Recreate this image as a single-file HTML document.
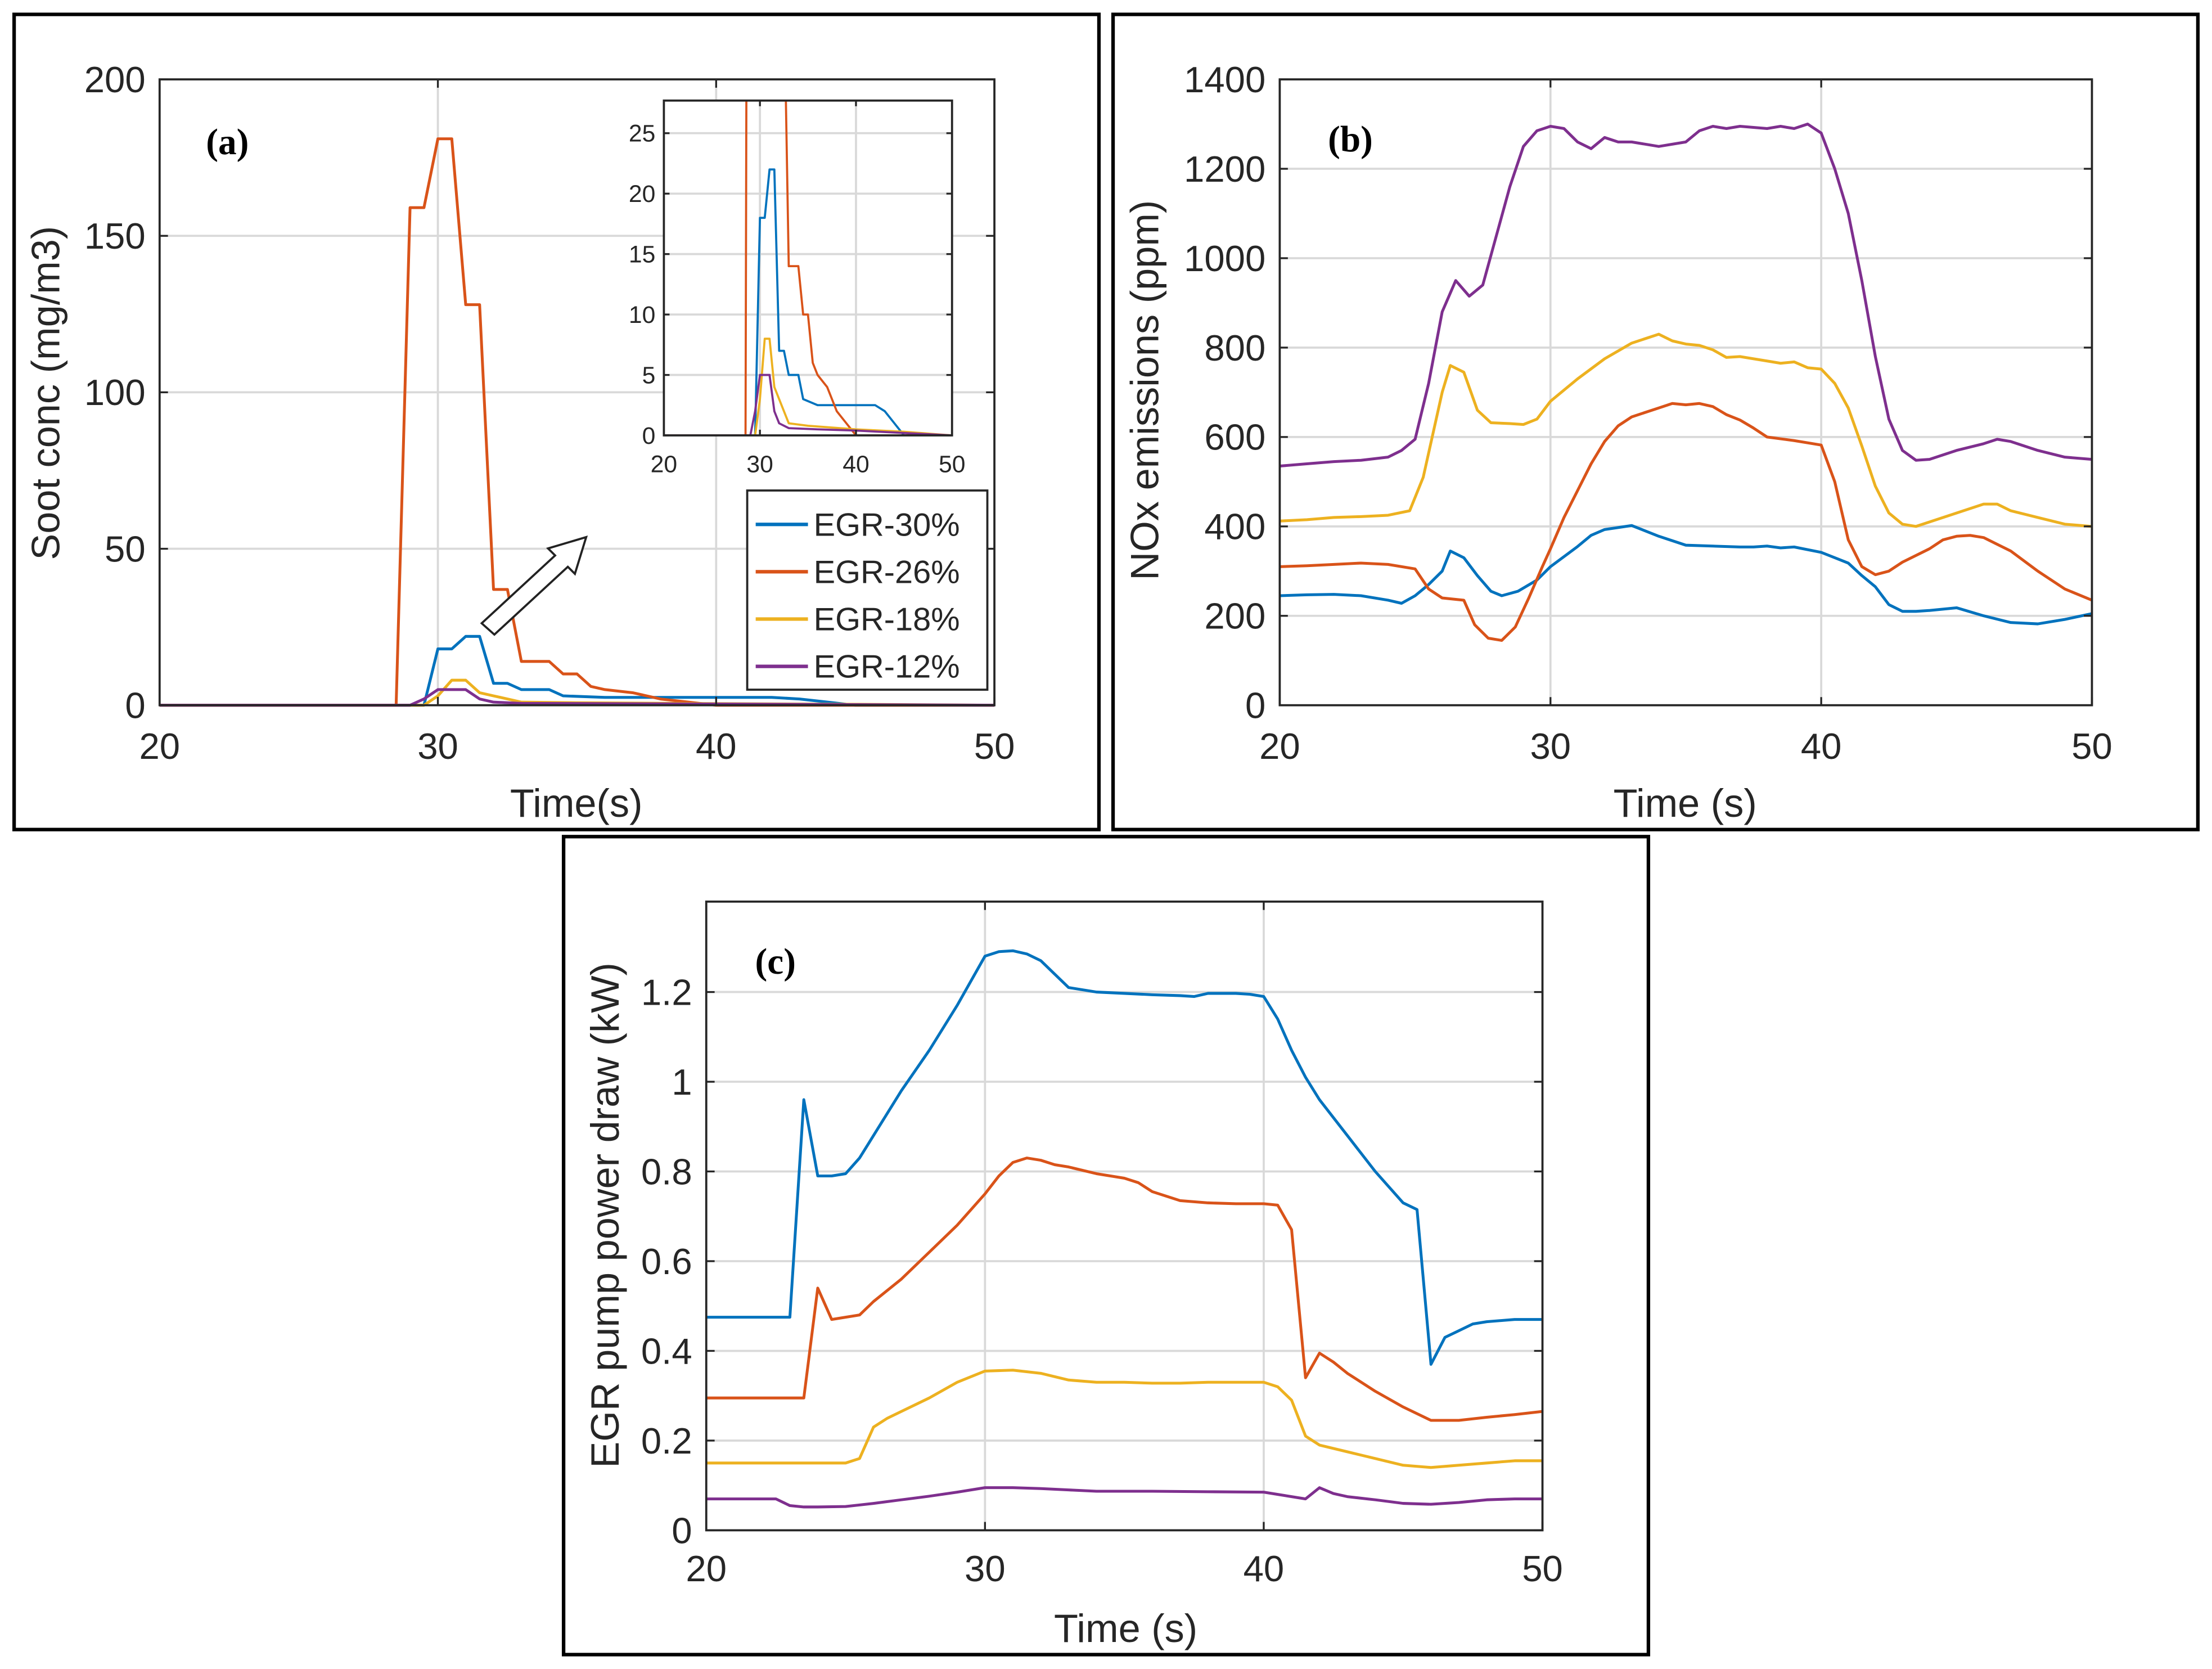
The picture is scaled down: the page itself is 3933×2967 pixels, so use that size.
<!DOCTYPE html>
<html><head><meta charset="utf-8">
<style>
html,body{margin:0;padding:0;background:#fff;}
svg{display:block;}
text{font-family:"Liberation Sans",Arial,sans-serif;fill:#262626;}
.lbl{font-family:"Liberation Serif",serif;font-weight:bold;fill:#000;}
</style></head>
<body>
<svg id="fig" width="3933" height="2967" viewBox="0 0 1566 1181" xmlns="http://www.w3.org/2000/svg">
<rect x="0" y="0" width="1566" height="1181" fill="#fff"/>
</svg>
<script>
// ---------- Panel (a): soot concentration ----------
const aT30=[20,29.5,30,30.5,31,31.5,32,32.5,33,34,34.5,36,38,40,42,43,44,45,50];
const aV30=[0,0,18,18,22,22,7,7,5,5,3,2.5,2.5,2.5,2.5,2,1,0,0];
const aT26=[20,28.5,29,29.5,30,30.5,31,31.5,32,32.5,33,34,34.5,35,35.5,36,37,38,39,40,50];
const aV26=[0,0,159,159,181,181,128,128,37,37,14,14,10,10,6,5,4,2,1,0,0];
const aT18=[20,29.5,30,30.5,31,31.5,32,33,35,40,45,50];
const aV18=[0,0,3,8,8,4,3,1,0.8,0.5,0.3,0];
const aT12=[20,29,29.5,30,31,31.5,32,33,36,40,45,50];
const aV12=[0,0,2,5,5,2,1,0.6,0.5,0.4,0.2,0];
const aYTicks=[0,50,100,150,200];
const aInsetYTicks=[0,5,10,15,20,25];
const xTicks=[20,30,40,50];
// ---------- Panel (b): NOx ----------
const bT12=[20,21,22,23,24,24.5,25,25.5,26,26.5,27,27.5,28,28.5,29,29.5,30,30.5,31,31.5,32,32.5,33,34,35,35.5,36,36.5,37,38,38.5,39,39.5,40,40.5,41,41.5,42,42.5,43,43.5,44,45,46,46.5,47,48,49,50];
const bV12=[535,540,545,548,555,570,595,720,880,950,915,940,1050,1160,1250,1285,1295,1290,1260,1245,1270,1260,1260,1250,1260,1285,1295,1290,1295,1290,1295,1290,1300,1280,1200,1100,950,780,640,570,548,550,570,585,595,590,570,555,550];
const bT18=[20,21,22,23,24,24.8,25.3,26,26.3,26.8,27.3,27.8,28.5,29,29.5,30,31,32,33,34,34.5,35,35.5,36,36.5,37,38,38.5,39,39.5,40,40.5,41,41.5,42,42.5,43,43.5,44,45,46,46.5,47,48,49,50];
const bV18=[412,415,420,422,425,435,510,700,760,745,660,632,630,628,640,680,730,775,810,830,815,808,805,795,778,780,770,765,768,755,752,720,665,580,490,430,405,400,410,430,450,450,435,420,405,400];
const bT26=[20,21,22,23,24,25,25.5,26,26.8,27.2,27.7,28.2,28.7,29.2,29.7,30,30.5,31,31.5,32,32.5,33,34,34.5,35,35.5,36,36.5,37,37.5,38,39,40,40.5,41,41.5,42,42.5,43,44,44.5,45,45.5,46,47,48,49,50];
const bV26=[310,312,315,318,315,305,260,240,235,180,150,145,175,240,310,350,420,480,540,590,625,645,665,675,672,675,668,650,638,620,600,592,582,500,370,310,292,300,320,350,370,378,380,375,345,300,260,235];
const bT30=[20,21,22,23,24,24.5,25,25.5,26,26.3,26.8,27.3,27.8,28.2,28.8,29.5,30,31,31.5,32,33,34,35,36,37,37.5,38,38.5,39,40,40.5,41,41.5,42,42.5,43,43.5,44,45,46,47,48,49,50];
const bV30=[245,247,248,245,235,228,245,270,300,345,330,290,255,245,255,280,310,355,380,393,402,378,358,356,354,354,356,352,354,342,330,318,290,265,225,210,210,212,218,200,185,182,192,205];
const bYTicks=[0,200,400,600,800,1000,1200,1400];
// ---------- Panel (c): pump power ----------
const cT30=[20,22,23,23.5,24,24.5,25,25.5,26,27,28,29,30,30.5,31,31.5,32,32.5,33,34,35,36,37,37.5,38,39,39.5,40,40.5,41,41.5,42,43,44,45,45.5,46,46.5,47,47.5,48,49,50];
const cV30=[0.475,0.475,0.475,0.96,0.79,0.79,0.795,0.83,0.88,0.98,1.07,1.17,1.28,1.29,1.292,1.285,1.27,1.24,1.21,1.2,1.197,1.194,1.192,1.19,1.197,1.197,1.195,1.19,1.14,1.07,1.01,0.96,0.88,0.8,0.73,0.715,0.37,0.43,0.445,0.46,0.465,0.47,0.47];
const cT26=[20,23.5,24,24.5,25,25.5,26,27,28,29,30,30.5,31,31.5,32,32.5,33,34,35,35.5,36,37,38,39,40,40.5,41,41.5,42,42.5,43,44,45,46,47,48,49,50];
const cV26=[0.295,0.295,0.54,0.47,0.475,0.48,0.51,0.56,0.62,0.68,0.75,0.79,0.82,0.83,0.825,0.815,0.81,0.795,0.785,0.775,0.755,0.735,0.73,0.728,0.728,0.725,0.67,0.34,0.395,0.375,0.35,0.31,0.275,0.245,0.245,0.252,0.258,0.265];
const cT18=[20,25,25.5,26,26.5,27,28,29,30,31,32,33,34,35,36,37,38,39,40,40.5,41,41.5,42,43,44,45,46,47,48,49,50];
const cV18=[0.15,0.15,0.16,0.23,0.25,0.265,0.295,0.33,0.355,0.357,0.35,0.335,0.33,0.33,0.328,0.328,0.33,0.33,0.33,0.32,0.29,0.21,0.19,0.175,0.16,0.145,0.14,0.145,0.15,0.155,0.155];
const cT12=[20,22.5,23,23.5,24,25,26,27,28,29,30,31,32,33,34,36,38,40,41,41.5,42,42.5,43,44,45,46,47,48,49,50];
const cV12=[0.07,0.07,0.055,0.052,0.052,0.053,0.06,0.068,0.076,0.085,0.095,0.095,0.093,0.09,0.087,0.087,0.086,0.085,0.075,0.07,0.095,0.082,0.075,0.068,0.06,0.058,0.062,0.068,0.07,0.07];
const cYTicks=[0,0.2,0.4,0.6,0.8,1,1.2];
const cYLabels=["0","0.2","0.4","0.6","0.8","1","1.2"];

const COL={b:"#0072BD",o:"#D95319",y:"#EDB120",p:"#7E2F8E"};
const NS="http://www.w3.org/2000/svg";
const fig=document.getElementById('fig');
function mk(tag,attrs,parent){const e=document.createElementNS(NS,tag);for(const k in attrs)e.setAttribute(k,attrs[k]);(parent||fig).appendChild(e);return e;}
function txt(s,x,y,size,anchor,parent,extra){const t=mk('text',Object.assign({x:x,y:y,'font-size':size,'text-anchor':anchor||'middle'},extra||{}),parent);t.textContent=s;return t;}

function axes(g,x0,x1,y0,y1,xmin,xmax,ymin,ymax){
  return {sx:v=>x0+(v-xmin)/(xmax-xmin)*(x1-x0), sy:v=>y0-(v-ymin)/(ymax-ymin)*(y0-y1)};
}
function drawLine(g,T,V,ax,color,w,clip){
  let d='';for(let i=0;i<T.length;i++){d+=(i?'L':'M')+ax.sx(T[i]).toFixed(2)+','+ax.sy(V[i]).toFixed(2);}
  const p=mk('path',{d:d,fill:'none',stroke:color,'stroke-width':w,'stroke-linejoin':'round'},g);
  if(clip)p.setAttribute('clip-path','url(#'+clip+')');
  return p;
}
function frame(g,x0,x1,y0,y1,ax,xt,yt,yl,fs,gridX,gridY){
  gridX.forEach(v=>{const l=mk('line',{x1:ax.sx(v),x2:ax.sx(v),y1:y1,y2:y0,stroke:'#d9d9d9','stroke-width':1.5},g);});
  gridY.forEach(v=>{const l=mk('line',{x1:x0,x2:x1,y1:ax.sy(v),y2:ax.sy(v),stroke:'#d9d9d9','stroke-width':1.5},g);});
}
function box(g,x0,x1,y0,y1,ax,xt,yt,yl,fs,xOff,yOff){
  mk('rect',{x:x0,y:y1,width:x1-x0,height:y0-y1,fill:'none',stroke:'#262626','stroke-width':1.5},g);
  const tl=Math.max(4,(x1-x0)*0.01);
  xt.forEach(v=>{const x=ax.sx(v);mk('line',{x1:x,x2:x,y1:y0,y2:y0-tl,stroke:'#262626','stroke-width':1.3},g);mk('line',{x1:x,x2:x,y1:y1,y2:y1+tl,stroke:'#262626','stroke-width':1.3},g);
    const t=txt(String(v),x,y0+xOff,fs,'middle',g);});
  yt.forEach((v,i)=>{const y=ax.sy(v);mk('line',{x1:x0,x2:x0+tl,y1:y,y2:y,stroke:'#262626','stroke-width':1.3},g);mk('line',{x1:x1,x2:x1-tl,y1:y,y2:y,stroke:'#262626','stroke-width':1.3},g);
    const t=txt(yl?yl[i]:String(v),x0-yOff,y+fs*0.35,fs,'end',g);});
}

// ===== Panel A =====
(function(){
  const g=mk('g',{});
  
  
  mk('rect',{x:10,y:10,width:768,height:577,fill:'#fff',stroke:'#000','stroke-width':2.5},g);
  const x0=113,x1=704,y0=499,y1=56;
  const ax=axes(g,x0,x1,y0,y1,20,50,0,200);
  frame(g,x0,x1,y0,y1,ax,xTicks,aYTicks,null,24,[30,40],[50,100,150]);
  const ser=[[aT30,aV30,COL.b],[aT26,aV26,COL.o],[aT18,aV18,COL.y],[aT12,aV12,COL.p]];
  const names=['line-egr-30','line-egr-26','line-egr-18','line-egr-12'];
  ser.forEach((s,i)=>{const p=drawLine(g,s[0],s[1],ax,s[2],2);});
  box(g,x0,x1,y0,y1,ax,xTicks,aYTicks,null,26,38,10);
  const xt=txt('Time(s)',408,578,28,'middle',g);
  const yt=txt('Soot conc (mg/m3)',42,278,28,'middle',g,{transform:'rotate(-90 42 278)'});
  const lb=txt('(a)',161,109,26,'middle',g,{class:'lbl'});
  // arrow
  const ar=mk('path',{d:'M341,441 L393,393 L388,388 L415,380 L407,406 L402,401 L350,449 Z',fill:'#fff',stroke:'#222','stroke-width':1.5},g);
  
  // inset
  const ix0=470,ix1=674,iy0=308,iy1=71;
  const iax=axes(g,ix0,ix1,iy0,iy1,20,50,0,27.7);
  mk('rect',{x:ix0,y:iy1,width:ix1-ix0,height:iy0-iy1,fill:'#fff'},g);
  const defs=mk('defs',{},g);const cp=mk('clipPath',{id:'insetClip'},defs);mk('rect',{x:ix0,y:iy1,width:ix1-ix0,height:iy0-iy1},cp);
  frame(g,ix0,ix1,iy0,iy1,iax,xTicks,aInsetYTicks,null,16,[30,40],[5,10,15,20,25]);
  ser.forEach((s,i)=>{const p=drawLine(g,s[0],s[1],iax,s[2],1.5,'insetClip');});
  box(g,ix0,ix1,iy0,iy1,iax,xTicks,aInsetYTicks,null,17,26,6);
  // legend
  const lg=mk('g',{},g);
  mk('rect',{x:529,y:347,width:170,height:141,fill:'#fff',stroke:'#262626','stroke-width':1.5},lg);
  const ln=['EGR-30%','EGR-26%','EGR-18%','EGR-12%'];
  ser.forEach((s,i)=>{const y=371+i*33.5;mk('line',{x1:535,x2:572,y1:y,y2:y,stroke:s[2],'stroke-width':2.5},lg);
    const t=txt(ln[i],576,y+8,23,'start',lg);});
})();

// ===== Panel B =====
(function(){
  const g=mk('g',{});
  
  
  mk('rect',{x:788,y:10,width:768,height:577,fill:'#fff',stroke:'#000','stroke-width':2.5},g);
  const x0=906,x1=1481,y0=499,y1=56;
  const ax=axes(g,x0,x1,y0,y1,20,50,0,1400);
  frame(g,x0,x1,y0,y1,ax,xTicks,bYTicks,null,24,[30,40],[200,400,600,800,1000,1200]);
  const ser=[[bT30,bV30,COL.b,'line-egr-30'],[bT26,bV26,COL.o,'line-egr-26'],[bT18,bV18,COL.y,'line-egr-18'],[bT12,bV12,COL.p,'line-egr-12']];
  ser.forEach(s=>{const p=drawLine(g,s[0],s[1],ax,s[2],2);});
  box(g,x0,x1,y0,y1,ax,xTicks,bYTicks,null,26,38,10);
  const xt=txt('Time (s)',1193,578,28,'middle',g);
  const yt=txt('NOx emissions (ppm)',820,276,28,'middle',g,{transform:'rotate(-90 820 276)'});
  const lb=txt('(b)',956,107,26,'middle',g,{class:'lbl'});
})();

// ===== Panel C =====
(function(){
  const g=mk('g',{});
  
  
  mk('rect',{x:399,y:592,width:768,height:579,fill:'#fff',stroke:'#000','stroke-width':2.5},g);
  const x0=500,x1=1092,y0=1083,y1=638;
  const ax=axes(g,x0,x1,y0,y1,20,50,0,1.4016);
  frame(g,x0,x1,y0,y1,ax,xTicks,cYTicks,cYLabels,24,[30,40],[0.2,0.4,0.6,0.8,1,1.2]);
  const ser=[[cT30,cV30,COL.b,'line-egr-30'],[cT26,cV26,COL.o,'line-egr-26'],[cT18,cV18,COL.y,'line-egr-18'],[cT12,cV12,COL.p,'line-egr-12']];
  ser.forEach(s=>{const p=drawLine(g,s[0],s[1],ax,s[2],2);});
  box(g,x0,x1,y0,y1,ax,xTicks,cYTicks,cYLabels,26,36,10);
  const xt=txt('Time (s)',797,1162,28,'middle',g);
  const yt=txt('EGR pump power draw (kW)',438,860,28,'middle',g,{transform:'rotate(-90 438 860)'});
  const lb=txt('(c)',549,689,26,'middle',g,{class:'lbl'});
})();
</script>
</body></html>
